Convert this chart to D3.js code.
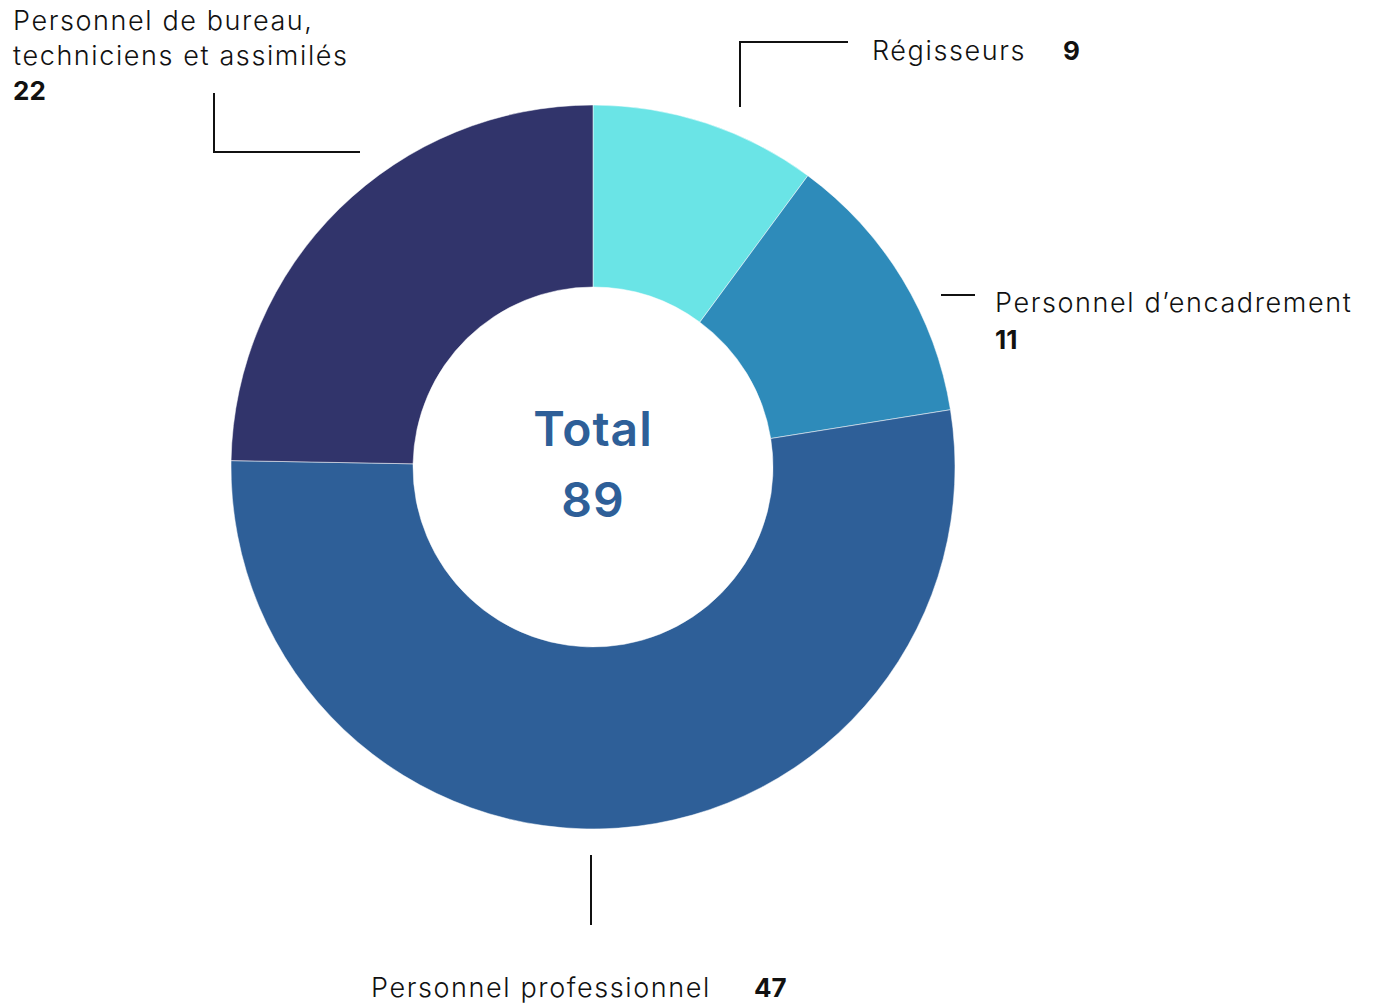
<!DOCTYPE html>
<html>
    <head>
        <meta charset="utf-8" />
        <title>Effectifs par catégorie</title>
        <script src="https://d3js.org/d3.v7.min.js"></script>
        <style>
            * {
                margin: 0;
                padding: 0;
                box-sizing: border-box;
            }

            body {
                background-color: #ffffff;
                overflow: hidden;
            }

            text {
                font-family: 'Inter', 'Roboto', sans-serif;
                fill: #111;
            }

            .label {
                font-size: 27px;
                font-weight: 300;
                letter-spacing: 1.6px;
            }

            .value {
                font-size: 26px;
                font-weight: 700;
            }

            .leader {
                stroke: #111;
                stroke-width: 2px;
                fill: none;
            }

            .total {
                font-size: 48px;
                font-weight: 600;
                letter-spacing: 1px;
                fill: #2e5f98;
            }
        </style>
    </head>
    <body>
        <script>
            const categories = ['Régisseurs', 'Personnel d’encadrement', 'Personnel professionnel', 'Personnel de bureau, techniciens et assimilés'];
            const values = [9, 11, 47, 22];
            const colors = ['#6ae4e6', '#2e8bba', '#2e5f98', '#31346b'];

            const width = 1382;
            const height = 1006;
            const cx = 593;
            const cy = 467;
            const outerR = 362;
            const innerR = 180;

            const data = categories.map((c, i) => ({ name: c, value: values[i], color: colors[i] }));
            const total = d3.sum(values);

            const svg = d3.select('body').append('svg').attr('width', width).attr('height', height);

            const pie = d3.pie().sort(null).value((d) => d.value);
            const arc = d3.arc().innerRadius(innerR).outerRadius(outerR);

            const g = svg.append('g').attr('transform', `translate(${cx},${cy})`);

            g.selectAll('path')
                .data(pie(data))
                .join('path')
                .attr('d', arc)
                .attr('fill', (d) => d.data.color)
                .attr('stroke', '#ffffff')
                .attr('stroke-width', 0.5);

            // centre
            g.append('text').attr('class', 'total').attr('text-anchor', 'middle').attr('y', -21).text('Total');
            g.append('text').attr('class', 'total').attr('text-anchor', 'middle').attr('y', 50).text(total);

            // leader lines
            const leaders = [
                [[740, 107], [740, 42], [848, 42]],
                [[941, 295], [975, 295]],
                [[591, 855], [591, 925]],
                [[214, 93], [214, 152], [360, 152]],
            ];
            svg.selectAll('.leader')
                .data(leaders)
                .join('path')
                .attr('class', 'leader')
                .attr('d', d3.line());

            // labels
            svg.append('text').attr('class', 'label').attr('x', 872).attr('y', 60).text(categories[0]);
            svg.append('text').attr('class', 'value').attr('x', 1063).attr('y', 60).text(values[0]);

            svg.append('text').attr('class', 'label').attr('x', 995).attr('y', 312).text(categories[1]);
            svg.append('text').attr('class', 'value').attr('x', 995).attr('y', 349).text(values[1]);

            svg.append('text').attr('class', 'label').attr('x', 371).attr('y', 997).text(categories[2]);
            svg.append('text').attr('class', 'value').attr('x', 754).attr('y', 997).text(values[2]);

            svg.append('text').attr('class', 'label').attr('x', 13).attr('y', 30).text('Personnel de bureau,');
            svg.append('text').attr('class', 'label').attr('x', 13).attr('y', 65).text('techniciens et assimilés');
            svg.append('text').attr('class', 'value').attr('x', 13).attr('y', 100).text(values[3]);
        </script>
    </body>
</html>
